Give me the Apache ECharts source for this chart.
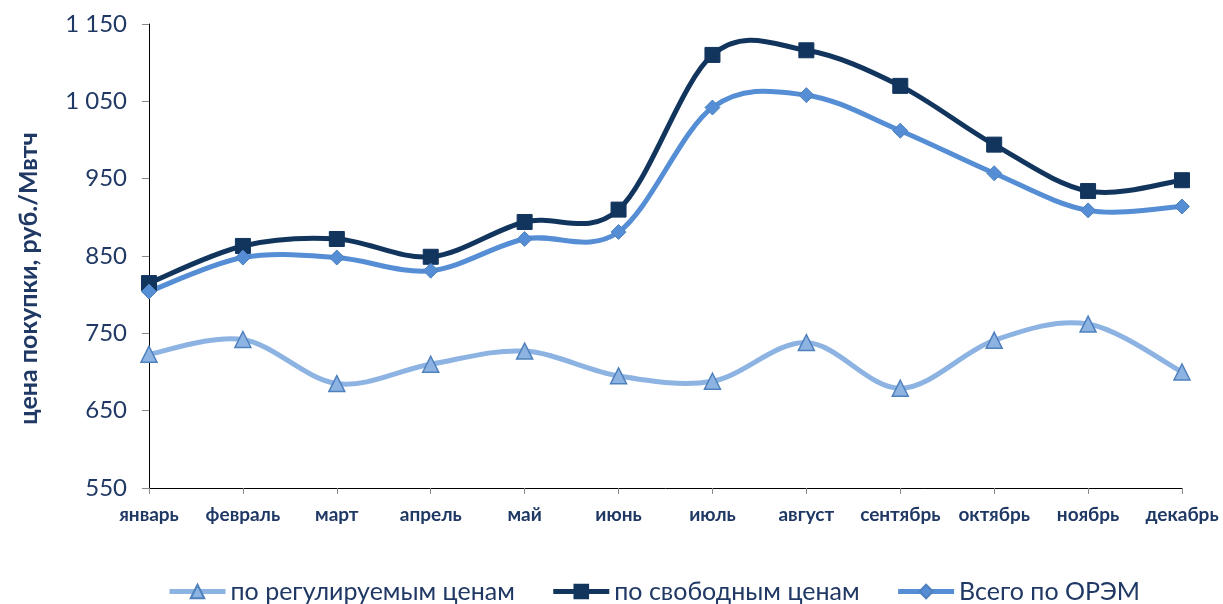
<!DOCTYPE html>
<html><head><meta charset="utf-8">
<script src="https://cdn.jsdelivr.net/npm/echarts@6/dist/echarts.min.js"></script>
<style>html,body{margin:0;padding:0;background:#fff}#c{width:1223px;height:604px}</style>
</head><body><div id="c"></div>
<script>
const months = ['январь','февраль','март','апрель','май','июнь','июль','август','сентябрь','октябрь','ноябрь','декабрь'];
const regulated = [723, 742, 685, 710, 727, 695, 688, 738, 679, 741, 762, 700];
const free = [815, 863, 872, 849, 894, 910, 1110, 1116, 1070, 994, 934, 948];
const total = [804, 848, 848, 831, 872, 881, 1042, 1058, 1012, 957, 909, 914];
const seriesNames = ['по регулируемым ценам','по свободным ценам','Всего по ОРЭМ'];
const yAxisName = 'цена покупки, руб./Мвтч';

const FONT = 'Lato, "Open Sans", sans-serif';
const C_REG = '#8db3e2', C_FREE = '#12355e', C_TOT = '#558ed5';

// Excel-style smoothed curve (Catmull-Rom Bezier) through the library's own coordinates
function curve(vals, color){
  return {
    type:'custom', silent:true, z:1, data:[0],
    renderItem:function(params, api){
      const p = vals.map((v,i)=>api.coord([i,v]));
      let d = 'M'+p[0][0]+' '+p[0][1];
      for(let i=0;i<p.length-1;i++){
        const p0=p[i-1]||p[i], p1=p[i], p2=p[i+1], p3=p[i+2]||p[i+1];
        const c1x=p1[0]+(p2[0]-p0[0])/6, c1y=p1[1]+(p2[1]-p0[1])/6;
        const c2x=p2[0]-(p3[0]-p1[0])/6, c2y=p2[1]-(p3[1]-p1[1])/6;
        d+=' C'+c1x+' '+c1y+' '+c2x+' '+c2y+' '+p2[0]+' '+p2[1];
      }
      return {type:'path', shape:{pathData:d}, style:{stroke:color, lineWidth:5, fill:null, lineJoin:'round', lineCap:'round'}};
    }
  };
}

const chart = echarts.init(document.getElementById('c'));
chart.setOption({
  animation:false,
  grid:{left:149,right:41,top:24,bottom:116},
  legend:{
    top:574, left:162, itemWidth:56, itemHeight:17, itemGap:36,
    textStyle:{fontFamily:FONT,fontSize:25,color:'#1f3864'},
    data:[
      {name:seriesNames[0], lineStyle:{color:C_REG,width:5,opacity:1}},
      {name:seriesNames[1], lineStyle:{color:C_FREE,width:5,opacity:1}},
      {name:seriesNames[2], lineStyle:{color:C_TOT,width:5,opacity:1}}
    ]
  },
  xAxis:{
    type:'category', data:months, boundaryGap:false,
    axisLine:{lineStyle:{color:'#000',width:1}},
    axisTick:{show:true,length:6,lineStyle:{color:'#888'}},
    axisLabel:{fontFamily:FONT,fontSize:19,fontWeight:'bold',color:'#1f3864',margin:17,interval:0}
  },
  yAxis:{
    type:'value', min:550, max:1150, interval:100,
    name:yAxisName, nameLocation:'middle', nameGap:108,
    nameTextStyle:{fontFamily:FONT,fontSize:25,fontWeight:'bold',color:'#1f3864',padding:[0,45,0,0]},
    axisLine:{show:true,lineStyle:{color:'#000',width:1}},
    axisTick:{show:true,length:7,lineStyle:{color:'#888'}},
    splitLine:{show:false},
    axisLabel:{fontFamily:FONT,fontSize:24,color:'#1f3864',margin:22,
      formatter:v=>v>=1000?(Math.floor(v/1000)+' '+String(v%1000).padStart(3,'0')):String(v)}
  },
  series:[
    curve(regulated, C_REG),
    curve(free, C_FREE),
    curve(total, C_TOT),
    {name:seriesNames[0],type:'line',data:regulated,z:3,
     lineStyle:{color:C_REG,width:5,opacity:0},
     symbol:'triangle',symbolSize:16,
     itemStyle:{color:C_REG,borderColor:'#4f81bd',borderWidth:1.5}},
    {name:seriesNames[1],type:'line',data:free,z:3,
     lineStyle:{color:C_FREE,width:5,opacity:0},
     symbol:'rect',symbolSize:15,
     itemStyle:{color:C_FREE,borderColor:C_FREE,borderWidth:1}},
    {name:seriesNames[2],type:'line',data:total,z:3,
     lineStyle:{color:C_TOT,width:5,opacity:0},
     symbol:'diamond',symbolSize:15,
     itemStyle:{color:C_TOT,borderColor:'#4f81bd',borderWidth:1}}
  ]
});
</script></body></html>
